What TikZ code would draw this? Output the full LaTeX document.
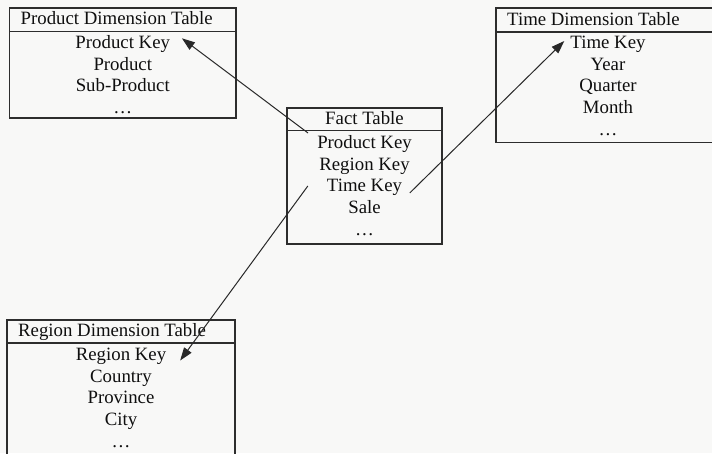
\documentclass[tikz,border=0pt]{standalone}
\usepackage{fontspec}
\setmainfont{Liberation Serif}
\usetikzlibrary{arrows.meta}
\definecolor{bgcol}{RGB}{248,248,247}
\definecolor{linecol}{RGB}{45,45,45}
\definecolor{txtcol}{RGB}{15,15,15}
\definecolor{arrcol}{RGB}{40,40,40}
\newcommand\tabfont{\fontsize{18.8}{21.7}\selectfont}
\tikzset{
  tbl/.style={draw=linecol, line width=1.4pt, rectangle, inner sep=0pt, outer sep=0pt, anchor=north west},
  hdrline/.style={draw=linecol, line width=1.4pt},
  hdr/.style={inner sep=0pt, font=\tabfont, text=txtcol},
  rowtxt/.style={inner sep=0pt, anchor=base, font=\tabfont, text=txtcol},
  arr/.style={draw=arrcol, line width=1pt, -{Triangle[length=13pt,width=9pt]}},
}
\begin{document}
\begin{tikzpicture}[x=1pt,y=-1pt]
\useasboundingbox (0,0) rectangle (712,453);
\clip (0,0) rectangle (712,453);
\fill[bgcol] (0,0) rectangle (712,453);

% Product Dimension Table
\node[tbl, minimum width=226.5pt, minimum height=110pt] (prodT) at (9.5,8) {};
\draw[hdrline] ([yshift=-23.5pt]prodT.north west) -- ([yshift=-23.5pt]prodT.north east);
\node[hdr, anchor=base west] (prodH) at ([xshift=11pt,yshift=-16.5pt]prodT.north west) {Product Dimension Table};
\node[rowtxt] (ppk) at ([yshift=-40.5pt]prodT.north) {Product Key};
\node[rowtxt] (pp)  at ([yshift=-62.2pt]prodT.north) {Product};
\node[rowtxt] (psp) at ([yshift=-83.9pt]prodT.north) {Sub-Product};
\node[rowtxt] (pdots) at ([yshift=-105.6pt]prodT.north) {…};

% Fact Table
\node[tbl, minimum width=155pt, minimum height=136pt] (factT) at (287,108) {};
\draw[hdrline] ([yshift=-22.5pt]factT.north west) -- ([yshift=-22.5pt]factT.north east);
\node[hdr, anchor=base] (factH) at ([yshift=-16.5pt]factT.north) {Fact Table};
\node[rowtxt] (fpk) at ([yshift=-40.5pt]factT.north) {Product Key};
\node[rowtxt] (frk) at ([yshift=-62.2pt]factT.north) {Region Key};
\node[rowtxt] (ftk) at ([yshift=-83.9pt]factT.north) {Time Key};
\node[rowtxt] (fs)  at ([yshift=-105.6pt]factT.north) {Sale};
\node[rowtxt] (fdots) at ([yshift=-127.3pt]factT.north) {…};

% Time Dimension Table
\node[tbl, minimum width=224pt, minimum height=134.5pt] (timeT) at (496,8) {};
\draw[hdrline] ([yshift=-24pt]timeT.north west) -- ([yshift=-24pt]timeT.north east);
\node[hdr, anchor=base west] (timeH) at ([xshift=11pt,yshift=-17pt]timeT.north west) {Time Dimension Table};
\node[rowtxt] (ttk) at ([yshift=-40.5pt]timeT.north) {Time Key};
\node[rowtxt] (ty)  at ([yshift=-62.2pt]timeT.north) {Year};
\node[rowtxt] (tq)  at ([yshift=-83.9pt]timeT.north) {Quarter};
\node[rowtxt] (tm)  at ([yshift=-105.6pt]timeT.north) {Month};
\node[rowtxt] (tdots) at ([yshift=-127.3pt]timeT.north) {…};

% Region Dimension Table
\node[tbl, minimum width=228pt, minimum height=145pt] (regT) at (7,320) {};
\draw[hdrline] ([yshift=-23pt]regT.north west) -- ([yshift=-23pt]regT.north east);
\node[hdr, anchor=base west] (regH) at ([xshift=11pt,yshift=-16.5pt]regT.north west) {Region Dimension Table};
\node[rowtxt] (rrk) at ([yshift=-40.5pt]regT.north) {Region Key};
\node[rowtxt] (rc)  at ([yshift=-62.2pt]regT.north) {Country};
\node[rowtxt] (rp)  at ([yshift=-83.9pt]regT.north) {Province};
\node[rowtxt] (rci) at ([yshift=-105.6pt]regT.north) {City};
\node[rowtxt] (rdots) at ([yshift=-127.3pt]regT.north) {…};

% Connectors
\draw[arr] ([shift={(-9pt,15.5pt)}]fpk.base west) -- ([shift={(11.7pt,10.2pt)}]ppk.base east);
\draw[arr] ([shift={(7.6pt,-1pt)}]ftk.base east) -- ([shift={(-6pt,7.5pt)}]ttk.base west);
\draw[arr] ([shift={(-11.3pt,-15.8pt)}]frk.base west) -- ([shift={(13.8pt,0pt)}]rrk.base east);
\end{tikzpicture}
\end{document}
